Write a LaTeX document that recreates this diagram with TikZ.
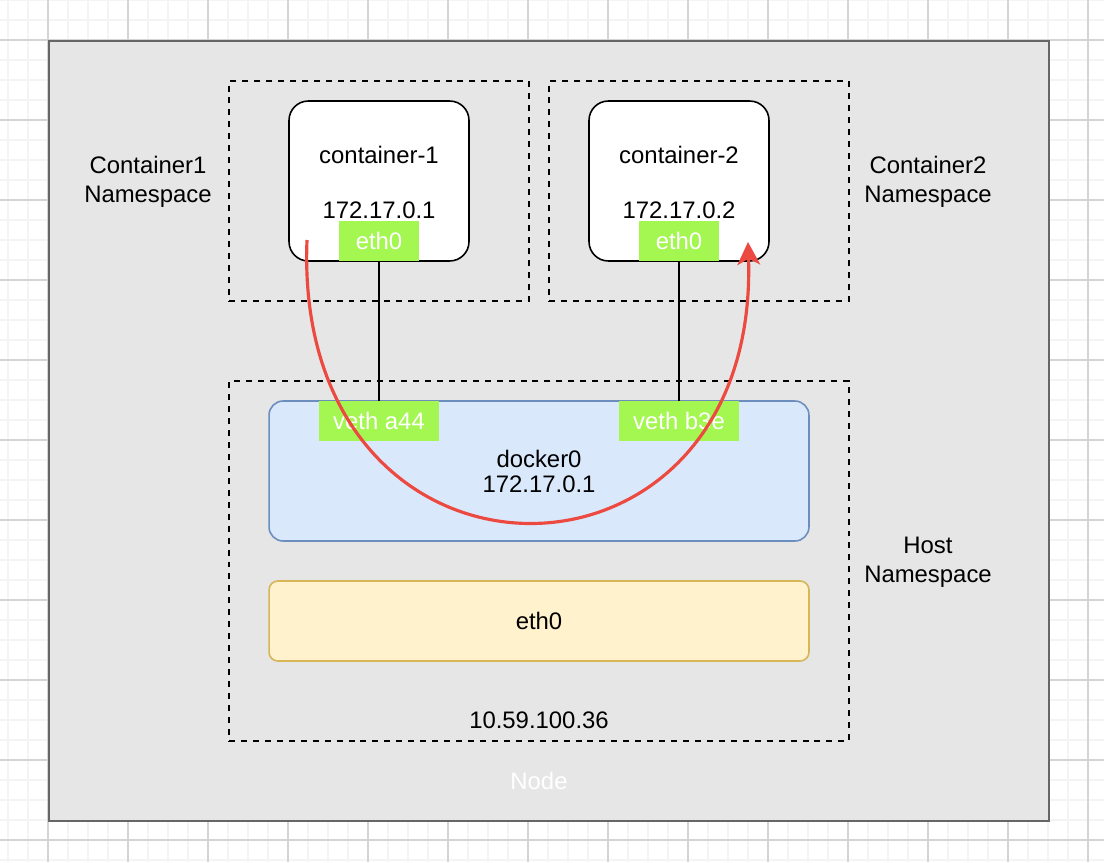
\documentclass[tikz,border=0pt]{standalone}
\usepackage{fontspec}
\setmainfont{Liberation Sans}
\usetikzlibrary{positioning,arrows.meta}
\definecolor{nodegray}{HTML}{E6E6E6}
\definecolor{nodeline}{HTML}{666666}
\definecolor{gridminor}{HTML}{F4F4F4}
\definecolor{gridmajor}{HTML}{D4D4D4}
\definecolor{ethgreen}{HTML}{A3F750}
\definecolor{bridgefill}{HTML}{DAE8FC}
\definecolor{bridgeline}{HTML}{6C8EBF}
\definecolor{hostfill}{HTML}{FFF2CC}
\definecolor{hostline}{HTML}{D6B656}
\definecolor{flowred}{HTML}{EC4A40}
\begin{document}
\begin{tikzpicture}[x=0.02cm, y=-0.02cm,
  font=\fontsize{13.6}{16.4}\selectfont,
  every node/.style={inner sep=0pt, outer sep=0pt},
  nsbox/.style={draw, dash pattern=on 3.4pt off 3.4pt, line width=0.8pt},
  ctbox/.style={draw, fill=white, rounded corners=11pt, line width=0.9pt,
    minimum width=3.6cm, minimum height=3.2cm},
  iface/.style={fill=ethgreen, text=white, minimum height=0.8cm},
  link/.style={line width=0.8pt},
  flow/.style={draw=flowred, line width=1.8pt,
    -{Stealth[length=13pt, width=13pt, inset=3.5pt]}}
]
  \useasboundingbox (0,0) rectangle (1104,862);
  % background grid
  \foreach \gx in {8,28,...,1108} \draw[gridminor, line width=0.6pt] (\gx,0) -- (\gx,862);
  \foreach \gy in {0,20,...,860} \draw[gridminor, line width=0.6pt] (0,\gy) -- (1104,\gy);
  \foreach \gx in {48,128,...,1088} \draw[gridmajor, line width=0.6pt] (\gx,0) -- (\gx,862);
  \foreach \gy in {40,120,...,840} \draw[gridmajor, line width=0.6pt] (0,\gy) -- (1104,\gy);

  % node
  \node[draw=nodeline, fill=nodegray, line width=1.2pt,
    minimum width=20cm, minimum height=15.6cm] (node) at (549,431) {};
  \node[text=white] (nodelabel) at (539,781) {Node};

  % namespaces
  \node[nsbox, minimum width=6cm, minimum height=4.4cm] (ns1) at (379,191) {};
  \node[nsbox, minimum width=6cm, minimum height=4.4cm] (ns2) at (699,191) {};
  \node[nsbox, minimum width=12.4cm, minimum height=7.2cm] (hostns) at (539,561) {};
  \node[align=center] (ns1label) at (148,182) {Container1\\Namespace};
  \node[align=center] (ns2label) at (928,182) {Container2\\Namespace};
  \node[align=center] (hostlabel) at (928,562) {Host\\Namespace};
  \node (hostip) at (539,720) {10.59.100.36};

  % containers
  \node[ctbox] (c1) at (379,181) {};
  \node (c1name) at (379,155) {container-1};
  \node (c1ip) at (379,210) {172.17.0.1};
  \node[iface, minimum width=1.6cm] (c1eth) at (379,241) {eth0};

  \node[ctbox] (c2) at (679,181) {};
  \node (c2name) at (679,155) {container-2};
  \node (c2ip) at (679,210) {172.17.0.2};
  \node[iface, minimum width=1.6cm] (c2eth) at (679,241) {eth0};

  % host side
  \node[draw=bridgeline, fill=bridgefill, line width=0.9pt, rounded corners=8pt,
    minimum width=10.8cm, minimum height=2.8cm, align=center,
    font=\fontsize{13.6}{14.2}\selectfont] (docker) at (539,471) {docker0\\172.17.0.1};
  \node[draw=hostline, fill=hostfill, line width=0.9pt, rounded corners=5pt,
    minimum width=10.8cm, minimum height=1.6cm] (hosteth) at (539,621) {eth0};
  \node[iface, minimum width=2.4cm] (vetha) at (379,421) {veth a44};
  \node[iface, minimum width=2.4cm] (vethb) at (679,421) {veth b3e};

  \draw[link] (c1eth.south) -- (vetha.north);
  \draw[link] (c2eth.south) -- (vethb.north);

  % traffic path
  \coordinate (flowstart) at (307,240);
  \coordinate (flowend) at (748,242);
  \draw[flow] (flowstart) .. controls (292,615) and (760,615) .. (flowend);
\end{tikzpicture}
\end{document}
